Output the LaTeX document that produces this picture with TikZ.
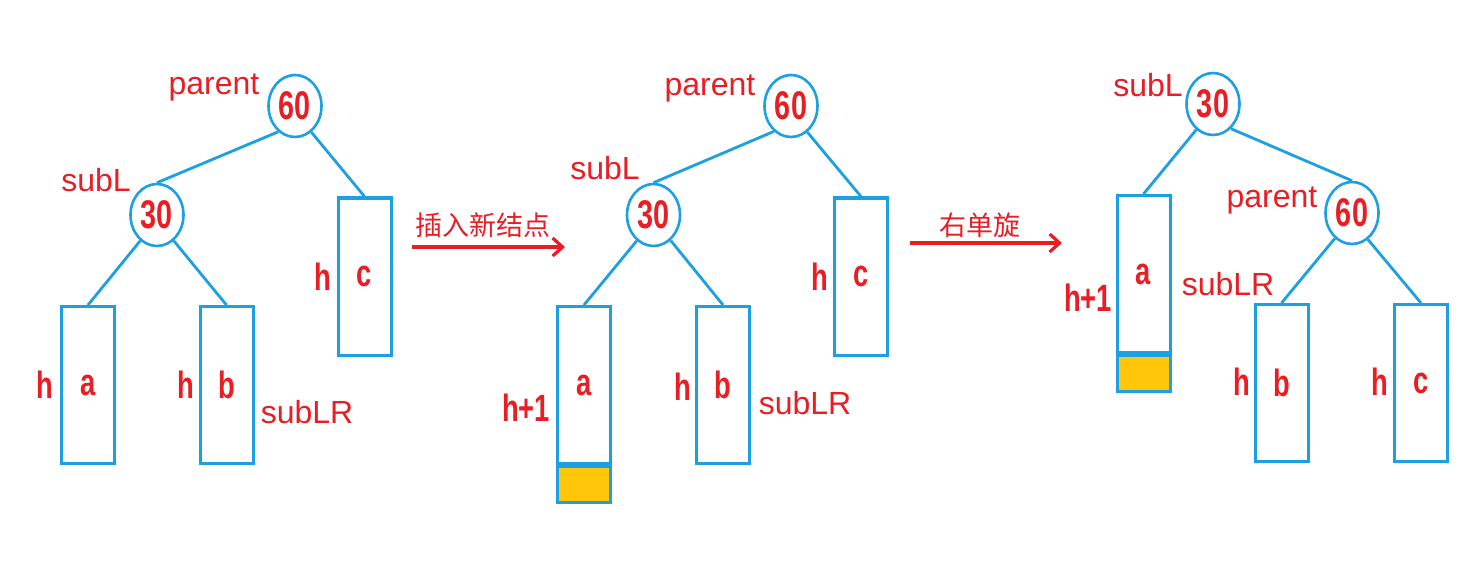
\documentclass[tikz,border=0pt]{standalone}
\usepackage{fontspec}
\setmainfont{Liberation Sans}
\newfontfamily\narrowfont[FakeStretch=0.72]{Liberation Sans}
\newfontfamily\cjk{Noto Sans CJK SC}
\usepackage{tikz}
\usetikzlibrary{positioning, arrows.meta, shapes.geometric}
\definecolor{treeblue}{RGB}{28,160,226}
\definecolor{labred}{RGB}{232,30,36}
\definecolor{growth}{RGB}{255,198,10}

\begin{document}
\begin{tikzpicture}[
  x=0.5pt, y=-0.5pt,
  key/.style={ellipse, draw=treeblue, line width=1.3pt, inner sep=0pt,
              minimum width=26.5pt, minimum height=31pt,
              font=\narrowfont\bfseries\fontsize{20}{20}\selectfont, text=labred},
  sub/.style={draw=treeblue, line width=1.5pt, inner sep=0pt,
              minimum width=26.5pt, minimum height=78.5pt,
              font=\narrowfont\bfseries\fontsize{19}{19}\selectfont, text=labred},
  added/.style={sub, fill=growth, minimum height=18pt},
  tag/.style={font=\fontsize{16}{16}\selectfont, text=labred, inner sep=1pt},
  ht/.style={font=\narrowfont\bfseries\fontsize{19}{19}\selectfont, text=labred, inner sep=1pt},
  op/.style={font=\cjk\fontsize{13.5}{13.5}\selectfont, text=labred, inner sep=1pt},
  link/.style={draw=treeblue, line width=1.4pt},
  turn/.style={->, >={Straight Barb[length=5pt, width=9pt]}, draw=labred, line width=1.6pt}]
  \useasboundingbox (0,0) rectangle (1484,567);
  % before insertion
  \node[key] (p1) at (295,106)   {60};
  \node[key] (l1) at (157,215)   {30};
  \node[sub] (a1) at (88,385)    {a};
  \node[sub] (b1) at (226.5,385) {b};
  \node[sub] (c1) at (364.5,276.5) {c};
  \node[tag] (pt1) at (214,87)  {parent};
  \node[tag] (st1) at (96,180)  {subL};
  \node[tag] (sr1) at (307,412) {subLR};
  \node[ht] (ha1) at (45,385)  {h};
  \node[ht] (hb1) at (186,385) {h};
  \node[ht] (hc1) at (323,277) {h};
  \draw[link] (p1.-123) -- (l1.north);
  \draw[link] (p1.-58) -- (c1.north);
  \draw[link] (l1.-123) -- (a1.north);
  \draw[link] (l1.-57) -- (b1.north);
  % insert
  \coordinate (i0) at (412,247);
  \coordinate (i1) at (565,247);
  \draw[turn] (i0) -- node[op, above=3pt, xshift=-3pt] {插入新结点} (i1);
  % after insertion
  \node[key] (p2) at (791,106)   {60};
  \node[key] (l2) at (653.5,215) {30};
  \node[sub] (a2) at (584,385)   {a};
  \node[added] (g2) [below=0pt of a2] {};
  \node[sub] (b2) at (723,385)   {b};
  \node[sub] (c2) at (861,276.5) {c};
  \node[tag] (pt2) at (710,88)  {parent};
  \node[tag] (st2) at (605,168) {subL};
  \node[tag] (sr2) at (805,403) {subLR};
  \node[ht] (ha2) at (526,408) {h+1};
  \node[ht] (hb2) at (683,387) {h};
  \node[ht] (hc2) at (820,277) {h};
  \draw[link] (p2.-124) -- (l2.north);
  \draw[link] (p2.-58) -- (c2.north);
  \draw[link] (l2.-123) -- (a2.north);
  \draw[link] (l2.-56) -- (b2.north);
  % rotate right
  \coordinate (r0) at (910,243);
  \coordinate (r1) at (1062,243);
  \draw[turn] (r0) -- node[op, above=1pt, xshift=-3pt] {右单旋} (r1);
  % after rotation
  \node[key] (l3) at (1213,104)  {30};
  \node[key] (p3) at (1352,213)  {60};
  \node[sub] (a3) at (1143.5,274) {a};
  \node[added] (g3) [below=0pt of a3] {};
  \node[sub] (b3) at (1281.5,383) {b};
  \node[sub] (c3) at (1421,383)   {c};
  \node[tag] (st3) at (1148,85)  {subL};
  \node[tag] (pt3) at (1272,200) {parent};
  \node[tag] (sr3) at (1228,284) {subLR};
  \node[ht] (ha3) at (1088,298) {h+1};
  \node[ht] (hb3) at (1242,382) {h};
  \node[ht] (hc3) at (1380,382) {h};
  \draw[link] (l3.-123) -- (a3.north);
  \draw[link] (l3.-54) -- (p3.north);
  \draw[link] (p3.-124) -- (b3.north);
  \draw[link] (p3.-59) -- (c3.north);
\end{tikzpicture}
\end{document}
